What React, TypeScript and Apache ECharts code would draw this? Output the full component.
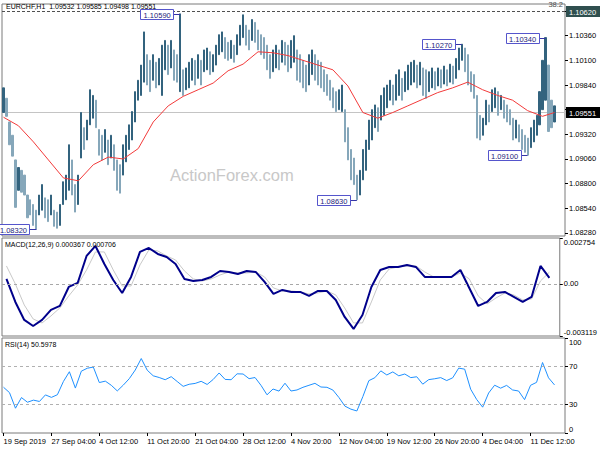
import React, { useEffect, useRef } from 'react';
import * as echarts from 'echarts';

const symbolTitle = 'EURCHF,H1';
const lastBarOHLC = [1.09532, 1.09585, 1.09498, 1.09551];
const fibLevel = 1.1062;
const fibName = '38.2';
const watermark = 'ActionForex.com';

const tickLabels = [
  '19 Sep 2019', '27 Sep 04:00', '4 Oct 12:00', '11 Oct 20:00', '21 Oct 04:00', '28 Oct 12:00',
  '4 Nov 20:00', '12 Nov 04:00', '19 Nov 12:00', '26 Nov 20:00', '4 Dec 04:00', '11 Dec 12:00',
];
const barsPerLabel = 16;
const slotCount = 188;

const highs = [
  1.0981, 1.0970, 1.0945, 1.0931, 1.0905, 1.0897, 1.0894, 1.0889, 1.0868, 1.0863,
  1.0858, 1.0852, 1.0868, 1.0879, 1.0865, 1.0863, 1.0868, 1.0852, 1.0850, 1.0858,
  1.0882, 1.0889, 1.0921, 1.0905, 1.0879, 1.0889, 1.0955, 1.0939, 1.0947, 1.0979,
  1.0973, 1.0968, 1.0937, 1.0931, 1.0937, 1.0926, 1.0931, 1.0921, 1.0905, 1.0900,
  1.0921, 1.0931, 1.0942, 1.0956, 1.0977, 1.0989, 1.1005, 1.1040, 1.1016, 1.1010,
  1.1016, 1.1008, 1.1012, 1.1026, 1.1031, 1.1026, 1.1031, 1.1021, 1.1016, 1.1059,
  1.1000, 1.1002, 1.1008, 1.1012, 1.1010, 1.1016, 1.1010, 1.1021, 1.1023, 1.1019,
  1.1016, 1.1026, 1.1037, 1.1040, 1.1034, 1.1029, 1.1031, 1.1026, 1.1037, 1.1047,
  1.1058, 1.1047, 1.1042, 1.1053, 1.1050, 1.1042, 1.1037, 1.1034, 1.1026, 1.1016,
  1.1021, 1.1026, 1.1021, 1.1031, 1.1029, 1.1026, 1.1031, 1.1036, 1.1021, 1.1016,
  1.1010, 1.1005, 1.1016, 1.1021, 1.1016, 1.1010, 1.1008, 1.1000, 1.0995, 1.0989,
  1.0981, 1.0977, 1.0979, 1.0984, 1.0958, 1.0939, 1.0916, 1.0907, 1.0889, 1.0894,
  1.0916, 1.0926, 1.0947, 1.0958, 1.0963, 1.0960, 1.0973, 1.0981, 1.0984, 1.0989,
  1.0984, 1.0995, 1.1000, 1.0991, 1.0998, 1.1005, 1.1008, 1.1010, 1.1005, 1.1008,
  1.1002, 1.1000, 1.0998, 1.1002, 1.0998, 1.1002, 1.1000, 1.1004, 1.1000, 1.1006,
  1.1004, 1.1012, 1.1023, 1.1027, 1.1023, 1.1016, 1.0998, 1.0995, 1.0973, 1.0952,
  1.0949, 1.0968, 1.0963, 1.0979, 1.0981, 1.0977, 1.0973, 1.0968, 1.0963, 1.0958,
  1.0949, 1.0947, 1.0942, 1.0937, 1.0931, 1.0928, 1.0939, 1.0947, 1.0952, 1.0977,
  1.1010, 1.1034, 1.1005, 1.0968, 1.0962,
];
const lows = [
  1.0955, 1.0951, 1.0921, 1.0909, 1.0855, 1.0873, 1.0871, 1.0868, 1.0844, 1.0847,
  1.0836, 1.0832, 1.0847, 1.0852, 1.0844, 1.0840, 1.0847, 1.0835, 1.0833, 1.0836,
  1.0858, 1.0863, 1.0873, 1.0868, 1.0850, 1.0858, 1.0907, 1.0916, 1.0926, 1.0942,
  1.0949, 1.0939, 1.0910, 1.0905, 1.0913, 1.0900, 1.0907, 1.0894, 1.0873, 1.0870,
  1.0889, 1.0903, 1.0916, 1.0926, 1.0945, 1.0968, 1.0973, 1.0987, 1.0984, 1.0977,
  1.0989, 1.0981, 1.0984, 1.0973, 1.1000, 1.0995, 1.1002, 1.0989, 1.0987, 1.0977,
  1.0973, 1.0979, 1.0981, 1.0989, 1.0984, 1.0991, 1.0984, 1.0998, 1.1000, 1.0995,
  1.0998, 1.1005, 1.1016, 1.1019, 1.1012, 1.1010, 1.1012, 1.1008, 1.1016, 1.1026,
  1.1034, 1.1026, 1.1021, 1.1031, 1.1029, 1.1021, 1.1016, 1.1012, 1.1000, 1.0991,
  1.0998, 1.1002, 1.1000, 1.1008, 1.1005, 1.0998, 1.1002, 1.1008, 1.0989, 1.0987,
  1.0981, 1.0977, 1.0984, 1.0995, 1.0989, 1.0984, 1.0981, 1.0977, 1.0973, 1.0968,
  1.0960, 1.0956, 1.0958, 1.0956, 1.0924, 1.0905, 1.0884, 1.0879, 1.0863, 1.0868,
  1.0884, 1.0894, 1.0916, 1.0926, 1.0939, 1.0935, 1.0947, 1.0952, 1.0960, 1.0968,
  1.0963, 1.0968, 1.0973, 1.0968, 1.0977, 1.0979, 1.0984, 1.0987, 1.0981, 1.0984,
  1.0973, 1.0970, 1.0977, 1.0981, 1.0979, 1.0983, 1.0981, 1.0985, 1.0983, 1.0987,
  1.0985, 1.0991, 1.1000, 1.1010, 1.0998, 1.0984, 1.0977, 1.0970, 1.0928, 1.0926,
  1.0931, 1.0942, 1.0945, 1.0956, 1.0960, 1.0952, 1.0958, 1.0949, 1.0945, 1.0942,
  1.0926, 1.0928, 1.0924, 1.0916, 1.0913, 1.0910, 1.0918, 1.0924, 1.0931, 1.0942,
  1.0958, 1.0968, 1.0935, 1.0939, 1.0945,
];

// moving average, one reading every 5 bars, plus the last bar
const maStep = 5;
const movingAverage = [
  1.0950, 1.0941, 1.0924, 1.0905, 1.0886, 1.0883, 1.0900, 1.0908, 1.0906, 1.0917,
  1.0945, 1.0962, 1.0972, 1.0979, 1.0986, 1.0999, 1.1006, 1.1019, 1.1018, 1.1015,
  1.1010, 1.1005, 1.1000, 1.0983, 1.0955, 1.0949, 1.0955, 1.0962, 1.0969, 1.0976,
  1.0981, 1.0987, 1.0979, 1.0973, 1.0968, 1.0957, 1.0951, 1.0955,
];

// MACD readings every 3 bars starting at bar 1
const macdStep = 3;
const macdOffset = 1;
const macdMain = [
  0.000300, -0.001079, -0.002157, -0.002517, -0.002157, -0.001558, -0.001318, -0.000180, 0.000060, 0.001678,
  0.002277, 0.001199, 0.000240, -0.000539, 0.000420, 0.001918, 0.002157, 0.001798, 0.001618, 0.001199,
  0.000300, 0.000180, 0.000240, 0.000420, 0.000779, 0.000719, 0.000599, 0.000779, 0.000719, 0.000120,
  -0.000599, -0.000360, -0.000479, -0.000479, -0.000719, -0.000420, -0.000420, -0.000959, -0.001978, -0.002697,
  -0.001858, -0.000180, 0.000839, 0.001019, 0.001019, 0.001139, 0.001019, 0.000420, 0.000420, 0.000420,
  0.000420, 0.000839, -0.000240, -0.001318, -0.001079, -0.000539, -0.000479, -0.000779, -0.001079, -0.000779,
  0.001079, 0.000367,
];
const macdSignal = [
  0.001079, 0.000000, -0.001259, -0.002098, -0.002337, -0.001918, -0.001438, -0.000719, -0.000060, 0.000839,
  0.001918, 0.001918, 0.000839, -0.000120, -0.000120, 0.001139, 0.002038, 0.001978, 0.001678, 0.001438,
  0.000779, 0.000300, 0.000180, 0.000300, 0.000539, 0.000719, 0.000659, 0.000659, 0.000719, 0.000420,
  -0.000240, -0.000420, -0.000420, -0.000479, -0.000599, -0.000539, -0.000420, -0.000659, -0.001438, -0.002337,
  -0.002337, -0.001079, 0.000240, 0.000899, 0.001019, 0.001079, 0.001079, 0.000719, 0.000420, 0.000420,
  0.000420, 0.000659, 0.000300, -0.000719, -0.001199, -0.000839, -0.000539, -0.000659, -0.000959, -0.000899,
  0.000180, 0.000706,
];

// RSI readings every 2 bars
const rsiStep = 2;
const rsiValues = [
  48.2, 42.5, 26.1, 37.3, 32.4, 34.6, 33.2, 40.1, 37.5, 40.3,
  54.2, 64.5, 47.3, 65.1, 68.2, 69.4, 53.1, 54.6, 50.2, 44.3,
  50.4, 57.2, 66.3, 78.4, 66.1, 60.2, 58.4, 56.1, 59.3, 54.2,
  49.1, 51.3, 52.2, 54.4, 51.1, 56.3, 63.2, 56.4, 56.1, 62.3,
  62.1, 57.2, 58.4, 50.1, 40.2, 46.3, 44.1, 52.4, 44.2, 45.3,
  48.1, 50.2, 52.3, 48.4, 48.1, 45.2, 37.4, 28.3, 25.1, 23.2,
  38.3, 55.1, 58.2, 65.4, 61.1, 64.3, 60.2, 62.1, 58.3, 59.2,
  51.4, 56.2, 57.1, 58.3, 55.2, 58.1, 68.3, 67.2, 46.1, 35.3,
  27.2, 42.1, 50.3, 47.2, 50.1, 45.3, 44.2, 35.1, 50.2, 53.3,
  74.2, 58.1, 50.5978,
];

const priceTicks = [1.0828, 1.0854, 1.0880, 1.0906, 1.0932, 1.0958, 1.0984, 1.1010, 1.1036, 1.1062];
const priceRange = [1.08248, 1.10694];
const macdTicks = [-0.003119, 0, 0.002754];
const rsiTicks = [0, 30, 70, 100];
const rsiLevels = [30, 70];

const extremes = [
  { bar: 11, kind: 'low' },
  { bar: 59, kind: 'high' },
  { bar: 118, kind: 'low' },
  { bar: 153, kind: 'high' },
  { bar: 175, kind: 'low' },
  { bar: 181, kind: 'high' },
];

const FONT = '"Liberation Sans", Arial, sans-serif';

export default function App() {
  const ref = useRef<HTMLDivElement>(null);

  useEffect(() => {
    if (!ref.current) return;
    const chart = echarts.init(ref.current, undefined, { renderer: 'svg' });

    const categories = Array.from({ length: slotCount }, (_, i) => String(i));
    const lastIdx = highs.length - 1;
    const lastClose = lastBarOHLC[3];

    const candleData = highs.map((h, i) => {
      const mid = (h + lows[i]) / 2;
      const prevMid = i > 0 ? (highs[i - 1] + lows[i - 1]) / 2 : mid;
      const c = mid >= prevMid ? '#33637e' : '#86a7ba';
      return {
        value: [lows[i], h, lows[i], h],
        itemStyle: { color: c, color0: c, borderColor: c, borderColor0: c, borderWidth: 1 },
      };
    });

    const maData = movingAverage.map((v, k) => [k === movingAverage.length - 1 ? lastIdx : k * maStep, v]);
    const macdData = macdMain.map((v, k) => [macdOffset + k * macdStep, v]);
    const sigData = macdSignal.map((v, k) => [macdOffset + k * macdStep, v]);
    const rsiData = rsiValues.map((v, k) => [k * rsiStep, v]);
    const markData = extremes.map((e) => [e.bar, e.kind === 'high' ? highs[e.bar] : lows[e.bar]]);
    // price levels: [bar, price, style(0 = fibonacci, 1 = last price)]
    const levelData = [
      [lastIdx, fibLevel, 0],
      [lastIdx, lastClose, 1],
    ];
    // axis labels hidden behind the price-level boxes (as in the terminal)
    const visiblePriceLabels = priceTicks.filter(
      (t) => Math.abs(t - lastClose) > 0.0006 && Math.abs(t - fibLevel) > 0.0006,
    );

    const hiddenX = (gridIndex: number) => ({
      type: 'category',
      gridIndex,
      data: categories,
      boundaryGap: true,
      axisLine: { show: false },
      axisTick: { show: false },
      axisLabel: { show: false },
      splitLine: { show: false },
    });

    const gridBase = { show: true, borderColor: '#7a7a7a', borderWidth: 1, backgroundColor: '#ffffff', left: 2, right: 35 };

    const yLabel = { color: '#000', fontSize: 7.5, fontFamily: FONT, margin: 4 };

    chart.setOption({
      animation: false,
      backgroundColor: '#ffffff',
      grid: [
        { ...gridBase, top: 4, height: 232 },
        { ...gridBase, top: 238, height: 98 },
        { ...gridBase, top: 338, height: 95 },
      ],
      xAxis: [
        hiddenX(0),
        hiddenX(1),
        {
          type: 'category',
          gridIndex: 2,
          data: categories,
          boundaryGap: true,
          axisLine: { show: false },
          axisTick: { show: true, interval: barsPerLabel - 1, alignWithLabel: true, length: 3, lineStyle: { color: '#000' } },
          axisLabel: {
            interval: barsPerLabel - 1,
            formatter: (_v: string, idx: number) => tickLabels[idx / barsPerLabel] ?? '',
            align: 'left',
            color: '#000',
            fontSize: 7.5,
            fontFamily: FONT,
            margin: 4,
          },
          splitLine: { show: false },
        },
      ],
      yAxis: [
        {
          type: 'value',
          gridIndex: 0,
          position: 'right',
          min: priceRange[0],
          max: priceRange[1],
          axisLine: { show: false },
          axisTick: { show: true, length: 3, customValues: priceTicks, lineStyle: { color: '#000' } },
          axisLabel: { ...yLabel, customValues: visiblePriceLabels, formatter: (v: number) => v.toFixed(5) },
          splitLine: { show: false },
        },
        {
          type: 'value',
          gridIndex: 1,
          position: 'right',
          min: macdTicks[0],
          max: macdTicks[2],
          axisLine: { show: false },
          axisTick: { show: true, length: 3, customValues: macdTicks, lineStyle: { color: '#000' } },
          axisLabel: {
            ...yLabel,
            customValues: macdTicks,
            verticalAlignMinLabel: 'bottom',
            verticalAlignMaxLabel: 'top',
            formatter: (v: number) => (v === 0 ? '0.00' : v.toFixed(6)),
          },
          splitLine: { show: false },
        },
        {
          type: 'value',
          gridIndex: 2,
          position: 'right',
          min: rsiTicks[0],
          max: rsiTicks[rsiTicks.length - 1],
          axisLine: { show: false },
          axisTick: { show: true, length: 3, customValues: rsiTicks, lineStyle: { color: '#000' } },
          axisLabel: {
            ...yLabel,
            customValues: rsiTicks,
            verticalAlignMinLabel: 'bottom',
            verticalAlignMaxLabel: 'top',
          },
          splitLine: { show: false },
        },
      ],
      series: [
        {
          type: 'custom',
          xAxisIndex: 0,
          yAxisIndex: 0,
          data: levelData,
          encode: { x: 0, y: 1 },
          clip: false,
          z: 2,
          renderItem: (params: any, api: any) => {
            const cs = params.coordSys;
            const y = Math.round(api.coord([api.value(0), api.value(1)])[1]) + 0.5;
            const isFib = api.value(2) === 0;
            const boxX = cs.x + cs.width + 1;
            return {
              type: 'group',
              children: [
                {
                  type: 'line',
                  shape: { x1: cs.x, y1: y, x2: cs.x + cs.width, y2: y },
                  style: isFib
                    ? { stroke: '#505050', lineWidth: 1, lineDash: [3, 2] }
                    : { stroke: '#c4c4c4', lineWidth: 1 },
                },
                {
                  type: 'rect',
                  z2: 5,
                  shape: { x: boxX, y: y - 5.5, width: 34, height: 11 },
                  style: { fill: isFib ? '#2f4f4f' : '#000000' },
                },
                {
                  type: 'text',
                  z2: 6,
                  style: {
                    text: Number(api.value(1)).toFixed(5), x: boxX + 3, y: y + 0.5,
                    align: 'left', verticalAlign: 'middle', fill: '#ffffff', font: `7.5px ${FONT}`,
                  },
                },
              ],
            };
          },
        },
        {
          type: 'candlestick',
          xAxisIndex: 0,
          yAxisIndex: 0,
          barWidth: 1.6,
          data: candleData,
          z: 3,
        },
        {
          type: 'line',
          xAxisIndex: 0,
          yAxisIndex: 0,
          data: maData,
          showSymbol: false,
          lineStyle: { color: '#f23a3a', width: 1 },
          z: 4,
        },
        {
          type: 'custom',
          xAxisIndex: 0,
          yAxisIndex: 0,
          data: markData,
          clip: false,
          z: 6,
          renderItem: (_params: any, api: any) => {
            const p = api.coord([api.value(0), api.value(1)]);
            const w = 33;
            const h = 10;
            const gap = 7;
            const right = p[0] - gap;
            const left = right - w;
            const y = Math.round(p[1]) + 0.5;
            return {
              type: 'group',
              children: [
                { type: 'line', shape: { x1: right, y1: y, x2: p[0], y2: y }, style: { stroke: '#3535a5', lineWidth: 1 } },
                { type: 'rect', shape: { x: Math.round(left) + 0.5, y: y - h / 2, width: w, height: h }, style: { fill: '#ffffff', stroke: '#5555cc', lineWidth: 1 } },
                {
                  type: 'text',
                  style: {
                    text: Number(api.value(1)).toFixed(5), x: left + w / 2 + 0.5, y: y + 0.5,
                    align: 'center', verticalAlign: 'middle', fill: '#1c1c7a', font: `7.5px ${FONT}`,
                  },
                },
              ],
            };
          },
        },
        {
          type: 'line',
          xAxisIndex: 1,
          yAxisIndex: 1,
          data: sigData,
          showSymbol: false,
          lineStyle: { color: '#c8c8c8', width: 1 },
          markLine: {
            silent: true,
            symbol: ['none', 'none'],
            label: { show: false },
            lineStyle: { type: [3, 3], color: '#a8a8a8', width: 1 },
            data: [{ yAxis: 0 }],
          },
          z: 2,
        },
        {
          type: 'line',
          xAxisIndex: 1,
          yAxisIndex: 1,
          data: macdData,
          showSymbol: false,
          lineStyle: { color: '#00008b', width: 2 },
          z: 3,
        },
        {
          type: 'line',
          xAxisIndex: 2,
          yAxisIndex: 2,
          data: rsiData,
          showSymbol: false,
          lineStyle: { color: '#1e90ff', width: 1 },
          markLine: {
            silent: true,
            symbol: ['none', 'none'],
            label: { show: false },
            lineStyle: { type: [3, 3], color: '#b0b0b0', width: 1 },
            data: rsiLevels.map((v) => ({ yAxis: v })),
          },
        },
      ],
      graphic: [
        {
          type: 'text', left: 6, top: 3, z: 10,
          style: {
            text: `${symbolTitle}  ${lastBarOHLC.map((v) => v.toFixed(5)).join(' ')}`,
            fill: '#000', font: `7px ${FONT}`,
          },
        },
        {
          type: 'text', right: 37, top: 0, z: 10,
          style: { text: fibName, fill: '#505050', font: `7.5px ${FONT}` },
        },
        {
          type: 'text', left: 170, top: 166, z: 1,
          style: { text: watermark, fill: '#c8c8c8', font: `16.5px ${FONT}` },
        },
        {
          type: 'text', left: 5, top: 241, z: 10,
          style: {
            text: `MACD(12,26,9) ${macdMain[macdMain.length - 1].toFixed(6)} ${macdSignal[macdSignal.length - 1].toFixed(6)}`,
            fill: '#000', font: `7px ${FONT}`,
          },
        },
        {
          type: 'text', left: 5, top: 341, z: 10,
          style: { text: `RSI(14) ${rsiValues[rsiValues.length - 1].toFixed(4)}`, fill: '#000', font: `7px ${FONT}` },
        },
      ],
    });

    return () => chart.dispose();
  }, []);

  return (
    <div
      ref={ref}
      style={{ position: 'fixed', left: 0, top: 0, width: 600, height: 450, background: '#ffffff' }}
    />
  );
}
